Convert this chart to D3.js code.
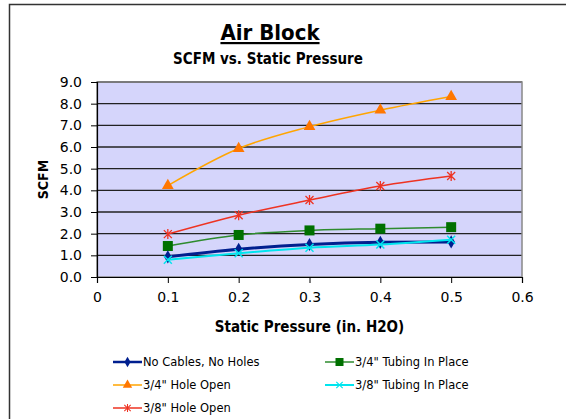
<!DOCTYPE html>
<html>
<head>
<meta charset="utf-8">
<script src="https://cdn.jsdelivr.net/npm/d3@7"></script>
<style>
  body { margin: 0; background: #fff; }
  svg text { font-family: "DejaVu Sans Condensed", "DejaVu Sans", sans-serif; }
</style>
</head>
<body>
<div id="chart"></div>
<script>
const pressures = [0.1, 0.2, 0.3, 0.4, 0.5];
const noCablesNoHoles = [0.93, 1.28, 1.5, 1.6, 1.62];
const tubing34 = [1.43, 1.94, 2.15, 2.23, 2.3];
const hole34 = [4.22, 5.93, 6.94, 7.7, 8.33];
const tubing38 = [0.8, 1.1, 1.35, 1.5, 1.72];
const hole38 = [1.98, 2.85, 3.55, 4.2, 4.66];
const yTicks = [0, 1, 2, 3, 4, 5, 6, 7, 8, 9];
const xTicks = [0, 0.1, 0.2, 0.3, 0.4, 0.5, 0.6];

const series = [
  { name: "No Cables, No Holes", values: noCablesNoHoles, line: "#001f8f", fill: "#001f8f", marker: "diamond", width: 3 },
  { name: "3/4\" Tubing In Place", values: tubing34, line: "#2e8b2e", fill: "#007000", marker: "square", width: 1.5 },
  { name: "3/4\" Hole Open", values: hole34, line: "#ffa500", fill: "#ff7700", marker: "triangle", width: 1.5 },
  { name: "3/8\" Tubing In Place", values: tubing38, line: "#00e5ee", fill: "#00e5ee", marker: "x", width: 2 },
  { name: "3/8\" Hole Open", values: hole38, line: "#ee3322", fill: "#ee3322", marker: "star", width: 1.5 },
];

const W = 566, H = 419;
const margin = { left: 97, right: 44, top: 82, bottom: 142 };
const iw = W - margin.left - margin.right;
const ih = H - margin.top - margin.bottom;

const svg = d3.select("#chart").append("svg").attr("width", W).attr("height", H);

// outer chart border
svg.append("rect")
  .attr("x", 9.5).attr("y", 4.5)
  .attr("width", W + 10).attr("height", H + 10)
  .attr("fill", "none").attr("stroke", "#333").attr("stroke-width", 1.5);

svg.append("text")
  .attr("x", 270).attr("y", 40)
  .attr("text-anchor", "middle")
  .style("font-size", "22px").style("font-weight", "bold")
  .style("text-decoration", "underline")
  .text("Air Block");

svg.append("text")
  .attr("x", 268).attr("y", 64)
  .attr("text-anchor", "middle")
  .style("font-size", "15px").style("font-weight", "bold")
  .text("SCFM vs. Static Pressure");

const g = svg.append("g").attr("transform", `translate(${margin.left},${margin.top})`);

const x = d3.scaleLinear().domain([0, 0.6]).range([0, iw]);
const y = d3.scaleLinear().domain([0, 9]).range([ih, 0]);

g.append("rect").attr("width", iw).attr("height", ih).attr("fill", "#d5d5fb");

g.selectAll("line.grid")
  .data(yTicks.filter((d) => d > 0))
  .join("line")
  .attr("class", "grid")
  .attr("x1", 0).attr("x2", iw)
  .attr("y1", (d) => y(d)).attr("y2", (d) => y(d))
  .attr("stroke", "#222").attr("stroke-width", 1.3);

g.append("rect").attr("width", iw).attr("height", ih)
  .attr("fill", "none").attr("stroke", "#888").attr("stroke-width", 1.5);

const yAxis = g.append("g")
  .call(d3.axisLeft(y).tickValues(yTicks).tickFormat(d3.format(".1f")).tickSize(6).tickPadding(9));
const xAxis = g.append("g").attr("transform", `translate(0,${ih})`)
  .call(d3.axisBottom(x).tickValues(xTicks).tickFormat((d) => (d === 0 ? "0" : d3.format(".1f")(d))).tickSize(6).tickPadding(9));
[yAxis, xAxis].forEach((a) => {
  a.select(".domain").attr("stroke", "#000").attr("stroke-width", 1.2);
  a.selectAll(".tick line").attr("stroke", "#000");
  a.selectAll("text").style("font-size", "14px").attr("fill", "#000")
    .style("font-family", "'DejaVu Sans', sans-serif");
});

svg.append("text")
  .attr("transform", `translate(48,${margin.top + ih / 2}) rotate(-90)`)
  .attr("text-anchor", "middle")
  .style("font-size", "14px").style("font-weight", "bold")
  .text("SCFM");

svg.append("text")
  .attr("x", margin.left + iw / 2).attr("y", 332)
  .attr("text-anchor", "middle")
  .style("font-size", "15px").style("font-weight", "bold")
  .text("Static Pressure (in. H2O)");

const line = d3.line().x((d, i) => x(pressures[i])).y((d) => y(d)).curve(d3.curveMonotoneX);

function drawMarker(sel, s) {
  if (s.marker === "diamond") {
    sel.append("path").attr("d", d3.symbol(d3.symbolDiamond, 50)()).attr("fill", s.fill);
  } else if (s.marker === "square") {
    sel.append("rect").attr("x", -5).attr("y", -5).attr("width", 10).attr("height", 10).attr("fill", s.fill);
  } else if (s.marker === "triangle") {
    sel.append("path").attr("d", d3.symbol(d3.symbolTriangle, 60)()).attr("fill", s.fill);
  } else if (s.marker === "x") {
    sel.append("path").attr("d", "M-4,-4L4,4M-4,4L4,-4").attr("stroke", s.fill).attr("stroke-width", 1.5);
  } else if (s.marker === "star") {
    sel.append("path").attr("d", "M-4,-4L4,4M-4,4L4,-4M0,-5L0,5").attr("stroke", s.fill).attr("stroke-width", 1.3);
  }
}

const drawOrder = [2, 4, 1, 0, 3];
drawOrder.forEach((k) => {
  const s = series[k];
  g.append("path")
    .attr("d", line(s.values))
    .attr("fill", "none")
    .attr("stroke", s.line)
    .attr("stroke-width", s.width);
  g.selectAll(null)
    .data(s.values)
    .join("g")
    .attr("transform", (d, i) => `translate(${x(pressures[i])},${y(d)})`)
    .each(function () { drawMarker(d3.select(this), s); });
});

// legend
const legendPos = [
  [113, 362], [325, 362], [113, 385], [325, 385], [113, 408],
];
const legendOrder = [0, 1, 2, 3, 4];
legendOrder.forEach((k, i) => {
  const s = series[k];
  const lg = svg.append("g").attr("transform", `translate(${legendPos[i][0]},${legendPos[i][1]})`);
  lg.append("line").attr("x1", 0).attr("x2", 29).attr("y1", 0).attr("y2", 0)
    .attr("stroke", s.line).attr("stroke-width", Math.min(s.width, 2.5));
  const m = lg.append("g").attr("transform", "translate(14.5,0) scale(0.8)");
  drawMarker(m, s);
  lg.append("text").attr("x", 30).attr("y", 4)
    .style("font-size", "11.5px")
    .style("font-family", "'DejaVu Sans', sans-serif")
    .text(s.name);
});
</script>
</body>
</html>
